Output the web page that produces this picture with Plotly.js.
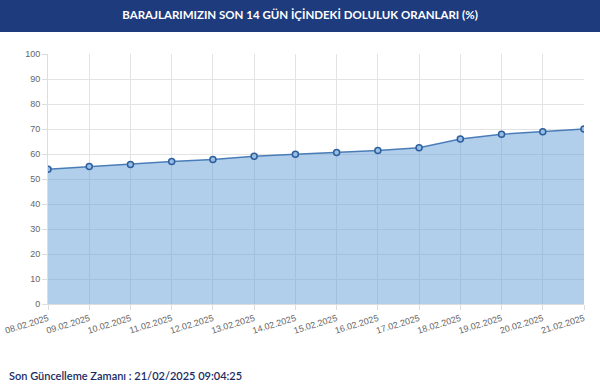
<!DOCTYPE html>
<html>
<head>
<meta charset="utf-8">
<script src="https://cdn.plot.ly/plotly-3.0.1.min.js"></script>
<style>
html,body{margin:0;padding:0;background:#fff;}
#chart{width:600px;height:392px;}
</style>
</head>
<body>
<div id="chart"></div>
<script>
const dates = ["08.02.2025","09.02.2025","10.02.2025","11.02.2025","12.02.2025","13.02.2025","14.02.2025","15.02.2025","16.02.2025","17.02.2025","18.02.2025","19.02.2025","20.02.2025","21.02.2025"];
const fillRates = [53.9,55.0,55.8,57.0,57.8,59.1,59.9,60.6,61.4,62.5,66.0,67.9,68.9,70.0];
const yTicks = [0,10,20,30,40,50,60,70,80,90,100];
const titleText = "BARAJLARIMIZIN SON 14 GÜN İÇİNDEKİ DOLULUK ORANLARI (%)";
const footerText = "Son Güncelleme Zamanı : 21/02/2025 09:04:25";

const W = 600, H = 392, mL = 48, mR = 16, mT = 54, mB = 88;
const pw = W - mL - mR, ph = H - mT - mB;

const trace = {
  x: dates,
  y: fillRates,
  type: 'scatter',
  mode: 'lines+markers',
  fill: 'tozeroy',
  fillcolor: 'rgba(100,160,215,0.5)',
  line: {color: '#4a7db8', width: 1.5},
  marker: {size: 6, color: 'rgba(150,190,230,1)', line: {color: '#2e5e9c', width: 1.5}},
  hoverinfo: 'x+y'
};

const tickFont = {family: '"Liberation Sans", Arial, sans-serif', size: 9, color: '#666666'};

const layout = {
  width: W, height: H,
  margin: {l: mL, r: mR, t: mT, b: mB},
  paper_bgcolor: '#ffffff',
  plot_bgcolor: '#ffffff',
  showlegend: false,
  title: {
    text: titleText,
    font: {family: 'Lato, "Open Sans", sans-serif', size: 11.5, color: '#ffffff', weight: 700},
    x: 0.5, xref: 'container', xanchor: 'center',
    y: 1 - 15 / H, yref: 'container', yanchor: 'middle'
  },
  xaxis: {
    type: 'category',
    range: [0, dates.length - 1],
    showgrid: true, gridcolor: '#e3e3e3', gridwidth: 1,
    ticks: 'outside', ticklen: 5, tickcolor: '#dddddd',
    tickangle: -17,
    tickfont: tickFont,
    showline: true, linecolor: '#dddddd', linewidth: 1,
    zeroline: false, fixedrange: true
  },
  yaxis: {
    range: [0, 100],
    tickvals: yTicks,
    showgrid: true, gridcolor: '#e3e3e3', gridwidth: 1,
    ticks: 'outside', ticklen: 5, tickcolor: '#dddddd',
    tickfont: tickFont,
    showline: true, linecolor: '#dddddd', linewidth: 1,
    zeroline: false, fixedrange: true
  },
  shapes: [
    {
      type: 'rect', xref: 'paper', yref: 'paper', layer: 'below',
      x0: -mL / pw, x1: 1 + mR / pw,
      y0: 1 + (mT - 32) / ph, y1: 1 + mT / ph,
      fillcolor: '#1d3b7d', line: {width: 0}
    },
    {
      type: 'line', xref: 'paper', yref: 'paper', layer: 'below',
      x0: -mL / pw, x1: 1 + mR / pw,
      y0: (mB - 389) / ph, y1: (mB - 389) / ph,
      line: {color: '#eeeeee', width: 1}
    }
  ],
  annotations: [
    {
      text: footerText,
      xref: 'paper', yref: 'paper',
      x: (7 - mL) / pw, xanchor: 'left',
      y: -(375 - (mT + ph)) / ph, yanchor: 'middle',
      showarrow: false,
      font: {family: 'Lato, "Open Sans", sans-serif', size: 11, color: '#1a2b63', weight: 600}
    }
  ]
};

Plotly.newPlot('chart', [trace], layout, {displayModeBar: false, staticPlot: true});
</script>
</body>
</html>
